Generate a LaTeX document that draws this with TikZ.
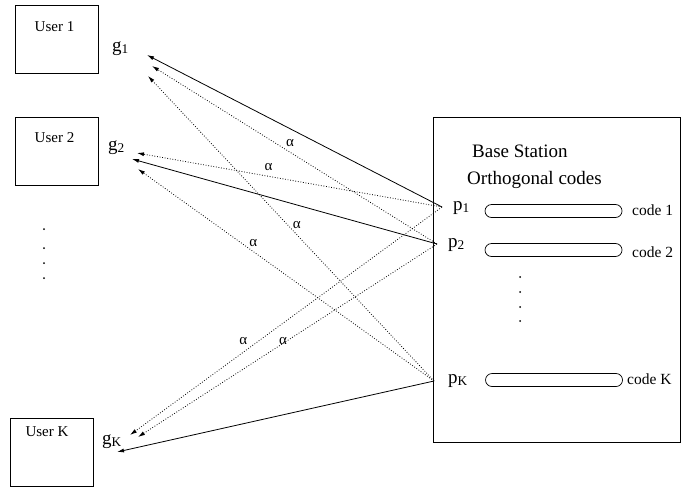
\documentclass[tikz,border=0pt]{standalone}
\usepackage{fontspec}
\setmainfont{Liberation Serif}
\usetikzlibrary{arrows.meta,positioning}

\begin{document}
\begin{tikzpicture}[
    x=1pt, y=-1pt,
    every node/.style={inner sep=0pt},
    userbox/.style={draw, line width=0.9pt, minimum width=83pt, minimum height=68pt},
    station/.style={draw, line width=0.9pt, minimum width=247pt, minimum height=325pt},
    usertext/.style={font=\fontsize{15}{18}\selectfont},
    gain/.style={font=\fontsize{19}{22}\selectfont, anchor=base west},
    title/.style={font=\fontsize{19}{22}\selectfont, anchor=base west},
    codebar/.style={draw, line width=0.7pt, rounded corners=6.5pt, minimum width=137pt, minimum height=13pt},
    codetext/.style={font=\fontsize{15.5}{18}\selectfont, anchor=base west},
    alab/.style={font=\fontsize{15}{18}\selectfont},
    link/.style={line width=0.8pt, -{Latex[length=7pt,width=4pt]}},
    cross/.style={link, dash pattern=on 0.8pt off 1.8pt, line width=0.8pt}
  ]

  \useasboundingbox (0,0) rectangle (692,490);

  % users
  \node[userbox] (u1) at (56.5,39) {};
  \node[userbox] (u2) at (56.5,151) {};
  \node[userbox] (uK) at (51.5,452) {};
  \node[usertext, below=17pt of u1.north, xshift=-2pt] (u1t) {User 1};
  \node[usertext, below=16pt of u2.north, xshift=-2pt] (u2t) {User 2};
  \node[usertext, below=9pt of uK.north, xshift=-4.5pt] (uKt) {User K};

  \node[gain] (g1) at (112,51) {g\textsubscript{1}};
  \node[gain] (g2) at (108,150) {g\textsubscript{2}};
  \node[gain] (gK) at (102,444) {g\textsubscript{K}};

  \foreach \y in {229,248,263,278}
    \fill (44,\y) circle (1pt);

  % base station
  \node[station] (bs) at (556.5,279.5) {};
  \node[title] (bst) at (472,157) {Base Station};
  \node[title] (oc) at (467,184) {Orthogonal codes};

  \node[gain] (p1) at (453,210) {p\textsubscript{1}};
  \node[gain] (p2) at (448,247) {p\textsubscript{2}};
  \node[gain] (pK) at (448,383) {p\textsubscript{K}};

  \node[codebar] (c1) at (553.5,211) {};
  \node[codebar] (c2) at (553.5,250) {};
  \node[codebar] (cK) at (554,380) {};
  \node[codetext] (c1t) at (632,215) {code 1};
  \node[codetext] (c2t) at (632,257) {code 2};
  \node[codetext] (cKt) at (627,384) {code K};

  \foreach \y in {277,292,307,321}
    \fill (520,\y) circle (1pt);

  % connector ends
  \coordinate (s1) at (442,207);
  \coordinate (s2) at (437,244);
  \coordinate (sK) at (434,381);
  \coordinate (g1a) at (147,55);
  \coordinate (g1b) at (152,66);
  \coordinate (g1c) at (148,76);
  \coordinate (g2a) at (137,153);
  \coordinate (g2b) at (132,159);
  \coordinate (g2c) at (138,169);
  \coordinate (gKa) at (130,435);
  \coordinate (gKb) at (138,437);
  \coordinate (gKc) at (117,452);

  \draw[link] (s1) -- (g1a);
  \draw[cross] (s2) -- (g1b) node[alab, pos=0.516, yshift=9pt] (a21) {α};
  \draw[cross] (sK) -- (g1c) node[alab, pos=0.511, xshift=9pt] (aK1) {α};
  \draw[cross] (s1) -- (g2a) node[alab, pos=0.569, yshift=9pt] (a12) {α};
  \draw[link] (s2) -- (g2b);
  \draw[cross] (sK) -- (g2c) node[alab, pos=0.651, xshift=12pt] (aK2) {α};
  \draw[cross] (s1) -- (gKa) node[alab, pos=0.637, yshift=11pt] (a1K) {α};
  \draw[cross] (s2) -- (gKb) node[alab, pos=0.515, yshift=2pt] (a2K) {α};
  \draw[link] (sK) -- (gKc);
\end{tikzpicture}
\end{document}
